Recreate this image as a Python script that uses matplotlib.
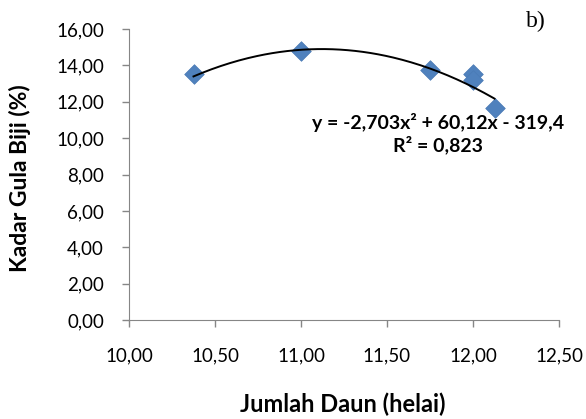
import numpy as np
import matplotlib.pyplot as plt

# data
jumlah_daun = [10.375, 11.00, 11.75, 12.00, 12.00, 12.125]
kadar_gula = [13.52, 14.79, 13.74, 13.55, 13.22, 11.63]
koef = [-2.703, 60.12, -319.4]  # trendline polinomial orde 2
x_ticks = [10.0, 10.5, 11.0, 11.5, 12.0, 12.5]
y_ticks = [0, 2, 4, 6, 8, 10, 12, 14, 16]

plt.rcParams['font.family'] = ['Lato', 'DejaVu Sans']

fig = plt.figure(figsize=(5.86, 4.19), dpi=100)
ax = fig.add_axes([129/586, 1-320/419, 430/586, 291/419])

ax.scatter(jumlah_daun, kadar_gula, marker='D', s=100, color='#4F81BD',
           edgecolors='#4A7AB5', linewidths=0.5, zorder=2)

xx = np.linspace(min(jumlah_daun), max(jumlah_daun), 200)
ax.plot(xx, np.polyval(koef, xx), color='black', lw=1.4, zorder=3)

ax.set_xlim(10, 12.5)
ax.set_ylim(0, 16)
ax.set_xticks(x_ticks)
ax.set_yticks(y_ticks)
ax.set_xticklabels([f'{v:.2f}'.replace('.', ',') for v in x_ticks])
ax.set_yticklabels([f'{v:.2f}'.replace('.', ',') for v in y_ticks])
ax.tick_params(labelsize=13.5, color='#868686', length=5, width=1)
ax.tick_params(axis='x', pad=15)
ax.tick_params(axis='y', pad=13)
for s in ['top', 'right']:
    ax.spines[s].set_visible(False)
for s in ['left', 'bottom']:
    ax.spines[s].set_color('#868686')

fig.text(343/586, 1-404/419, 'Jumlah Daun (helai)', fontsize=17,
         fontweight='bold', ha='center', va='center')
fig.text(20/586, 1-178/419, 'Kadar Gula Biji (%)', fontsize=16.5,
         fontweight='bold', ha='center', va='center', rotation=90)

fig.text(438/586, 1-122/419, 'y = -2,703x² + 60,12x - 319,4', fontsize=14,
         fontweight='bold', ha='center', va='center')
fig.text(438/586, 1-145/419, 'R² = 0,823', fontsize=14,
         fontweight='bold', ha='center', va='center')
fig.text(536/586, 1-21/419, 'b)', fontsize=17, family='Liberation Serif',
         ha='center', va='center')

fig.savefig('out.png', dpi=100)
